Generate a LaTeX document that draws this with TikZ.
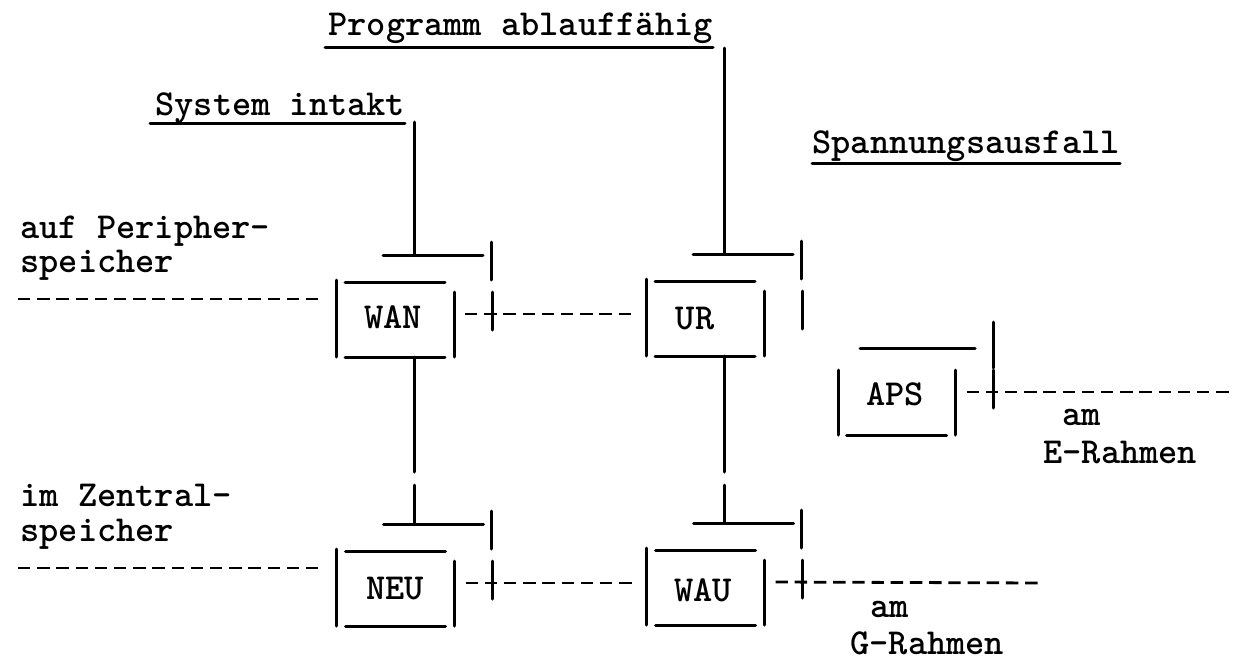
\documentclass[tikz,border=0pt]{standalone}
\usetikzlibrary{calc}
\tikzset{
  strich/.style={line width=1.5pt, line cap=round},
  gestr/.style={line width=1.4pt, dash pattern=on 6.2pt off 3.4pt},
  schrift/.style={font=\fontsize{18.3}{22}\selectfont\ttfamily\bfseries, inner sep=0pt},
  marke/.style={schrift, anchor=center},
  zeile/.style={schrift, anchor=base west},
}
% common parts of a state: label, sides, bottom, transition bars, anchors
% #1 name, (#2,#3) box centre, (#4,#5) label centre, #6 label
\newcommand{\zustandteile}[6]{%
  \node[marke] (#1) at (#4,#5) {#6};
  \begin{scope}[shift={(#2,#3)}]
    \draw[strich] (59,-28) -- (59,37);
    \draw[strich] (-50,37) -- (50,37);
    \draw[strich] (97,-28) -- (97,10);
    \coordinate (#1-t) at (19,-65);
    \coordinate (#1-b) at (19,37);
    \coordinate (#1-o) at (70,-6);
    \coordinate (#1-i) at (-73,-21);
  \end{scope}}
% closed state box with entry junction
\newcommand{\zustand}[6]{%
  \zustandteile{#1}{#2}{#3}{#4}{#5}{#6}
  \begin{scope}[shift={(#2,#3)}]
    \draw[strich] (-59,-40) -- (-59,37);
    \draw[strich] (-50,-38) -- (50,-38);
    \draw[strich] (96,-78) -- (96,-40);
    \draw[strich] (-12,-65) -- (88,-65);
  \end{scope}}
\begin{document}
\begin{tikzpicture}[x=0.5pt,y=-0.5pt]
\useasboundingbox (0,0) rectangle (1243,659);

% headings
\node[zeile] (prog) at (328,35) {Programm ablauff\"ahig};
\draw[strich] (325,47) -- (713,47);
\coordinate (progEnd) at (724,48);
\node[zeile] (sys) at (155,115) {System intakt};
\draw[strich] (150,123) -- (405,123);
\coordinate (sysEnd) at (414,122);
\node[zeile] (span) at (812,153) {Spannungsausfall};
\draw[strich] (812,163) -- (1120,163);

% side labels
\node[zeile] (peri1) at (20,238) {auf Peripher-};
\node[zeile] (peri2) at (20,272) {speicher};
\node[zeile] (zent1) at (20,506) {im Zentral-};
\node[zeile] (zent2) at (20,541) {speicher};
\node[zeile] (amE) at (1062,425) {am};
\node[zeile] (rahE) at (1043,463) {E-Rahmen};
\node[zeile] (amG) at (870,617) {am};
\node[zeile] (rahG) at (850,654) {G-Rahmen};

% states
\zustand{WAN}{395}{320}{393}{317}{WAN}
\zustand{UR}{705}{319}{695}{319}{UR}
\zustand{NEU}{395.5}{589}{395}{589}{NEU}
\zustand{WAU}{705.5}{588}{703}{590}{WAU}
% APS: open top, single bar above
\zustandteile{APS}{896.5}{398}{895}{394}{APS}
\draw[strich] (838,370) -- (838,435);
\draw[strich] (860,348) -- (975,348);
\draw[strich] (993,322) -- (993,368);

% solid connectors
\coordinate (gapTop) at (0,472);
\coordinate (gapBot) at (0,485);
\draw[strich] (sysEnd) -- (WAN-t);
\draw[strich] (progEnd) -- (UR-t);
\draw[strich] (WAN-b) -- (WAN-b |- gapTop);
\draw[strich] (NEU-t |- gapBot) -- (NEU-t);
\draw[strich] (UR-b) -- (UR-b |- gapTop);
\draw[strich] (WAU-t |- gapBot) -- (WAU-t);

% dashed connectors
\coordinate (linksA) at (18,0);
\coordinate (endeG) at (1042,583);
\coordinate (endeE) at (1233,392);
\draw[gestr] (WAN-i -| linksA) -- (WAN-i);
\draw[gestr] (NEU-i -| linksA) -- (NEU-i);
\draw[gestr] (WAN-o) -- (WAN-o -| UR-i);
\draw[gestr] (NEU-o) -- (NEU-o -| WAU-i);
\draw[gestr] (WAU-o) -- (endeG);
\draw[gestr] (APS-o) -- (endeE);
\end{tikzpicture}
\end{document}
